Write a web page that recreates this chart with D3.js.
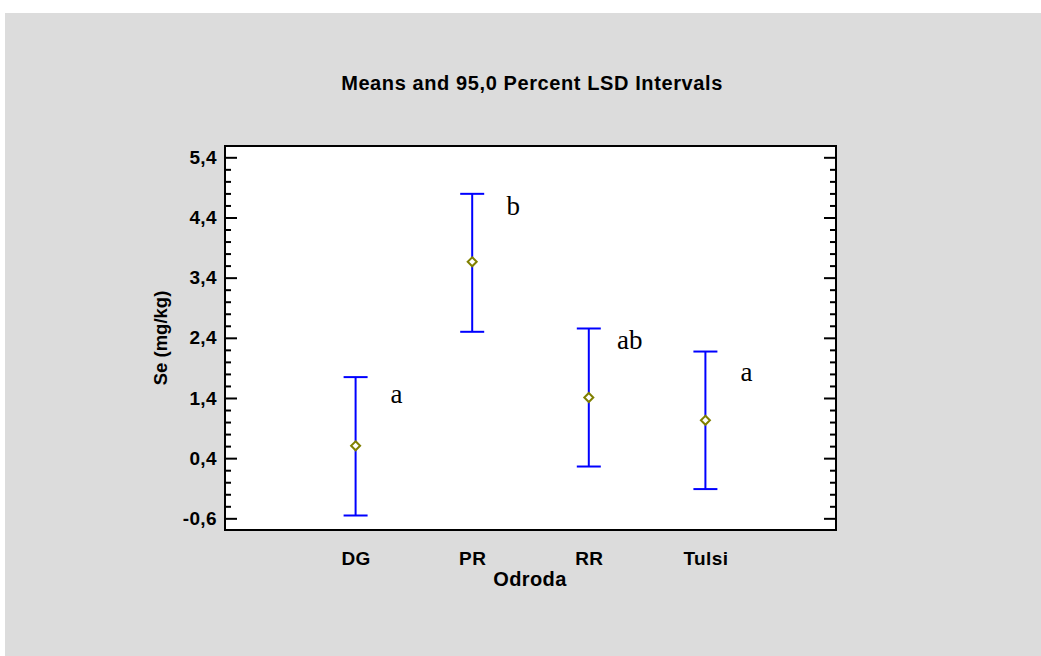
<!DOCTYPE html>
<html>
<head>
<meta charset="utf-8">
<style type="text/css">
body { margin: 0; background: #fff; }
.frame { fill: #fff; stroke: #000; stroke-width: 2; }
.axis path { display: none; }
.axis line { stroke: #000; stroke-width: 2; }
.axis text { font-family: "Liberation Sans", Arial, sans-serif; font-weight: bold; font-size: 19px; letter-spacing: 0.4px; fill: #000; }
.bar { stroke: #0000ff; stroke-width: 2; }
.dot { fill: #fff; stroke: #808000; stroke-width: 2; }
.letter { font-family: "Liberation Serif", "Times New Roman", serif; font-size: 27px; fill: #000; }
.lbl { font-family: "Liberation Sans", Arial, sans-serif; font-weight: bold; fill: #000; }
</style>
<script src="https://cdn.jsdelivr.net/npm/d3@7"></script>
</head>
<body>
<script>
// data
var categories = ["DG", "PR", "RR", "Tulsi"];
var means = [0.605, 3.663, 1.408, 1.029];
var lower = [-0.553, 2.500, 0.261, -0.114];
var upper = [1.747, 4.793, 2.555, 2.172];
var groups = ["a", "b", "ab", "a"];
var groupPos = [1.32, 4.44, 2.22, 1.69];   // baseline of the group letters, in y units
var yTicks = [-0.6, 0.4, 1.4, 2.4, 3.4, 4.4, 5.4];
var yMinor = [-0.4, -0.2, 0, 0.2, 0.6, 0.8, 1, 1.2, 1.6, 1.8, 2, 2.2, 2.6, 2.8, 3, 3.2, 3.6, 3.8, 4, 4.2, 4.6, 4.8, 5, 5.2];

var W = 1041, H = 656;
var plot = {left: 225, top: 146, right: 836, bottom: 530};

var svg = d3.select("body").append("svg")
    .attr("width", W)
    .attr("height", H);

// grey panel
svg.append("rect")
    .attr("x", 5).attr("y", 13)
    .attr("width", W - 5).attr("height", H - 13)
    .attr("fill", "#dcdcdc");

var x = d3.scalePoint()
    .domain(categories)
    .range([plot.left, plot.right])
    .padding(1.12);

var y = d3.scaleLinear()
    .domain([-0.794, 5.588])
    .range([plot.bottom, plot.top]);

// comma decimals, plain hyphen for minus
var fmt = function(d) { return d.toFixed(1).replace(".", ","); };

svg.append("rect")
    .attr("class", "frame")
    .attr("x", plot.left).attr("y", plot.top)
    .attr("width", plot.right - plot.left)
    .attr("height", plot.bottom - plot.top);

// left axis, ticks pointing in
svg.append("g")
    .attr("class", "axis")
    .attr("transform", "translate(" + plot.left + ",0)")
    .call(d3.axisLeft(y).tickValues(yTicks).tickSize(-12).tickPadding(8).tickFormat(fmt));
svg.append("g")
    .attr("class", "axis")
    .attr("transform", "translate(" + plot.left + ",0)")
    .call(d3.axisLeft(y).tickValues(yMinor).tickSize(-6).tickFormat(""));

// right axis
svg.append("g")
    .attr("class", "axis")
    .attr("transform", "translate(" + plot.right + ",0)")
    .call(d3.axisRight(y).tickValues(yTicks).tickSize(-12).tickFormat(""));
svg.append("g")
    .attr("class", "axis")
    .attr("transform", "translate(" + plot.right + ",0)")
    .call(d3.axisRight(y).tickValues(yMinor).tickSize(-6).tickFormat(""));

// x axis labels only
svg.append("g")
    .attr("class", "axis")
    .attr("transform", "translate(0," + plot.bottom + ")")
    .call(d3.axisBottom(x).tickSize(0).tickPadding(22));

// intervals
var g = svg.selectAll(".interval")
    .data(categories)
  .enter().append("g")
    .attr("class", "interval");

g.append("line").attr("class", "bar")
    .attr("x1", function(d) { return x(d); })
    .attr("x2", function(d) { return x(d); })
    .attr("y1", function(d, i) { return y(upper[i]); })
    .attr("y2", function(d, i) { return y(lower[i]); });
g.append("line").attr("class", "bar")
    .attr("x1", function(d) { return x(d) - 12; })
    .attr("x2", function(d) { return x(d) + 12; })
    .attr("y1", function(d, i) { return y(upper[i]); })
    .attr("y2", function(d, i) { return y(upper[i]); });
g.append("line").attr("class", "bar")
    .attr("x1", function(d) { return x(d) - 12; })
    .attr("x2", function(d) { return x(d) + 12; })
    .attr("y1", function(d, i) { return y(lower[i]); })
    .attr("y2", function(d, i) { return y(lower[i]); });

g.append("path").attr("class", "dot")
    .attr("d", "M0,-4.5L4.5,0L0,4.5L-4.5,0Z")
    .attr("transform", function(d, i) { return "translate(" + x(d) + "," + y(means[i]) + ")"; });

g.append("text").attr("class", "letter")
    .attr("x", function(d) { return x(d) + 41; })
    .attr("y", function(d, i) { return y(groupPos[i]); })
    .attr("text-anchor", "middle")
    .text(function(d, i) { return groups[i]; });

// titles
svg.append("text").attr("class", "lbl")
    .attr("x", 532).attr("y", 90)
    .attr("text-anchor", "middle")
    .style("font-size", "20px")
    .style("letter-spacing", "0.6px")
    .text("Means and 95,0 Percent LSD Intervals");

svg.append("text").attr("class", "lbl")
    .attr("x", 530).attr("y", 586)
    .attr("text-anchor", "middle")
    .style("font-size", "20px")
    .style("letter-spacing", "0.4px")
    .text("Odroda");

svg.append("text").attr("class", "lbl")
    .attr("transform", "translate(167," + ((plot.top + plot.bottom) / 2) + ") rotate(-90)")
    .attr("text-anchor", "middle")
    .style("font-size", "18.5px")
    .text("Se (mg/kg)");
</script>
</body>
</html>
